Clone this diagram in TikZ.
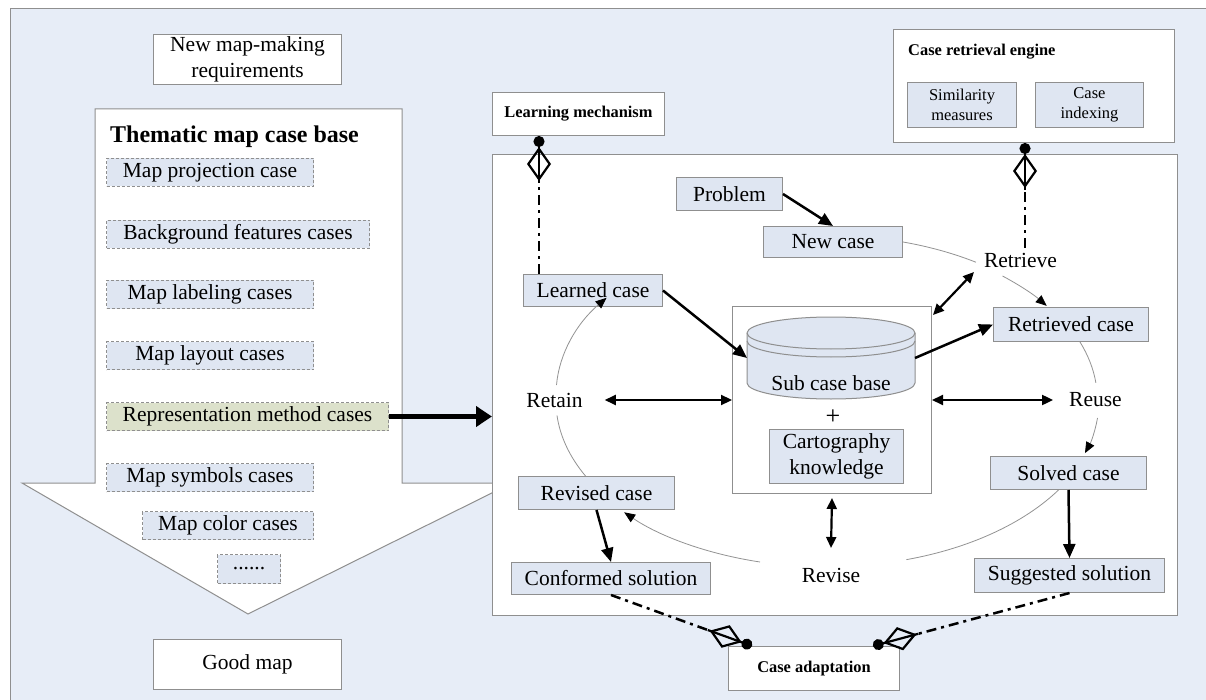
\documentclass[tikz,border=0pt]{standalone}
\usepackage{fontspec}
\setmainfont{Liberation Serif}
\usetikzlibrary{arrows.meta,calc}
\definecolor{bgblue}{HTML}{E7EDF7}
\definecolor{boxblue}{HTML}{DFE6F2}
\definecolor{repgreen}{HTML}{DCE1CB}
\definecolor{bgray}{HTML}{8F8F8F}
\newcommand\FMain{\fontsize{21.5}{25.5}\selectfont}
\newcommand\FSmall{\fontsize{16.5}{20}\selectfont}
\newcommand\FSmallB{\fontsize{16.4}{20}\selectfont\bfseries}
\newcommand\FTitle{\fontsize{24}{28}\selectfont\bfseries}
\newcommand\bx[6]{\node[#1,anchor=north west,minimum width={#4-#2},minimum height={#5-#3}] (#6) at (#2,#3)}
\newcommand\aggrcon[2]{%
  \draw[aggrline] (#1) -- ($(#2)!46pt!(#1)$);
  \draw[aggrtip] ($(#2)!47pt!(#1)$) -- (#2);}
\begin{document}
\begin{tikzpicture}[x=1pt,y=-1pt,
  basebox/.style={draw=bgray,line width=1pt,inner sep=2pt,align=center,font=\FMain},
  wbox/.style={basebox,fill=white},
  lbox/.style={basebox,fill=boxblue},
  dbox/.style={basebox,fill=boxblue,dash pattern=on 3pt off 2pt},
  gbox/.style={basebox,fill=repgreen,dash pattern=on 3pt off 2pt},
  lbl/.style={inner sep=0pt,font=\FMain},
  tarrow/.style={line width=2.5pt,-{Triangle[length=14pt,width=12pt]}},
  darrow/.style={line width=2.2pt,{Triangle[length=11pt,width=10pt]}-{Triangle[length=11pt,width=10pt]}},
  cyc/.style={draw=gray!85,line width=0.8pt},
  cyca/.style={cyc,-{Triangle[length=11pt,width=9pt,color=black]}},
  aggrline/.style={line width=2.5pt,dash pattern=on 10pt off 5pt on 3pt off 5pt},
  aggrtip/.style={line width=2.2pt,-{Diamond[open,length=34pt,width=24pt] Circle[length=11pt]}}
]
\useasboundingbox (0,0) rectangle (1206,700);
\fill[white] (0,0) rectangle (1206,700);
\fill[bgblue] (10,9) rectangle (1206,700);
\draw[bgray,line width=1pt] (10,700) -- (10,9) -- (1206,9);

% left side
\bx{wbox}{153}{34}{341}{84}{req} {New map-making\\requirements};
\filldraw[fill=white,draw=bgray,line width=1pt]
  (95,109) -- (402,109) -- (402,483) -- (512,483) -- (248,614) -- (22,483) -- (95,483) -- cycle;
\node[anchor=base west,inner sep=0pt,font=\FTitle] (title) at (110,143) {Thematic map case base};
\bx{dbox}{106}{158}{313}{186}{mp} {Map projection case};
\bx{dbox}{106}{220}{369}{248}{bf} {Background features cases};
\bx{dbox}{106}{280}{313}{308}{ml} {Map labeling cases};
\bx{dbox}{106}{341}{313}{369}{mlay} {Map layout cases};
\bx{gbox}{106}{402}{388}{430}{rep} {Representation method cases};
\bx{dbox}{106}{463}{313}{491}{ms} {Map symbols cases};
\bx{dbox}{142}{511}{313}{539}{mc} {Map color cases};
\bx{dbox}{217}{554}{280}{583}{more} {......};
\bx{wbox}{153}{639}{341}{689}{good} {Good map};

% top boxes
\bx{wbox,font=\FSmallB}{492}{92}{664}{135}{lm} {Learning mechanism};
\bx{wbox}{893}{29}{1174}{142}{cre} {};
\node[anchor=west,inner sep=0pt,font=\FSmallB] (cret) at (908,52) {Case retrieval engine};
\bx{lbox,font=\FSmall}{907}{82}{1016}{127}{sim} {Similarity\\measures};
\bx{lbox,font=\FSmall}{1035}{82}{1143}{127}{idx} {Case\\indexing};

% main panel
\bx{wbox}{492}{154}{1177}{615}{panel} {};
\draw[line width=5pt,-{Triangle[length=16pt,width=20pt]}] (rep.east) -- (rep.east -| panel.west);

\bx{lbox}{676}{177}{782}{210}{pb} {Problem};
\bx{lbox}{763}{226}{902}{257}{nc} {New case};
\bx{lbox}{523}{274}{662}{306}{lc} {Learned case};
\bx{lbox}{993}{307}{1148}{341}{rc} {Retrieved case};
\bx{wbox}{732}{306}{931}{493}{inner} {};
\bx{lbox}{769}{429}{903}{483}{ck} {Cartography\\knowledge};
\bx{lbox}{518}{476}{674}{509}{rv} {Revised case};
\bx{lbox}{990}{456}{1146}{489}{sc} {Solved case};
\bx{lbox}{511}{562}{710}{594}{conf} {Conformed solution};
\bx{lbox}{974}{558}{1164}{592}{sg} {Suggested solution};
\bx{wbox,font=\FSmallB}{728}{646}{899}{690}{ca} {Case adaptation};

% cylinder
\filldraw[fill=boxblue,draw=bgray,line width=1pt] (747,333) -- (747,383)
  arc[start angle=180,end angle=0,x radius=84,y radius=16] -- (915,333)
  arc[start angle=0,end angle=-180,x radius=84,y radius=16] -- cycle;
\draw[bgray,line width=1pt] (747,333) arc[start angle=180,end angle=0,x radius=84,y radius=16];
\draw[bgray,line width=1pt] (747,341) arc[start angle=180,end angle=0,x radius=84,y radius=16];
\node[lbl] (scb) at (831,383) {Sub case base};
\coordinate (cylW) at (747,358);
\coordinate (cylE) at (915,358);
\node[inner sep=0pt,font=\fontsize{26}{26}\selectfont] (plus) at (833,417) {+};

% stage labels
\node[lbl] (ret) at (1020.5,260) {Retrieve};
\node[lbl] (reuse) at (1095.5,400) {Reuse};
\node[lbl] (retain) at (554.5,400) {Retain};
\node[lbl] (revise) at (831,575) {Revise};

% thick arrows
\draw[tarrow] (pb.east) -- (nc.north);
\draw[tarrow] (lc.east) -- (cylW);
\draw[tarrow] (cylE) -- (rc.west);
\draw[tarrow] (rv.south) -- (conf.north);
\draw[tarrow] (sc.south) -- (sg.north);
\draw[darrow] ([shift={(22,0)}]retain.east) -- (inner.west);
\draw[darrow] (inner.east) -- ([shift={(-16,0)}]reuse.west);
\draw[darrow] ([shift={(0,4)}]inner.south) -- ([shift={(0,-27)}]revise.center);
\draw[darrow] ([shift={(1,9)}]inner.north east) -- ([shift={(-46.5,12)}]ret.center);

% cycle
\draw[cyc] (nc.east) arc[start angle=-74,end angle=-57,x radius=271,y radius=165];
\draw[cyca] ([shift={(-18,16)}]ret.center) arc[start angle=-49,end angle=-35,x radius=271,y radius=165];
\draw[cyc] ([shift={(9,0)}]rc.south) arc[start angle=-20.6,end angle=-6,x radius=271,y radius=165];
\draw[cyca] ([shift={(2,18)}]reuse.center) arc[start angle=6,end angle=18.5,x radius=271,y radius=165];
\draw[cyc] ([shift={(-10,0)}]sc.south) arc[start angle=32.5,end angle=73.6,x radius=271,y radius=165];
\draw[cyca] ([shift={(-71,-13)}]revise.center) arc[start angle=104,end angle=138,x radius=271,y radius=165];
\draw[cyc] ([shift={(-11,0)}]rv.north) arc[start angle=153,end angle=175,x radius=271,y radius=165];
\draw[cyca] ([shift={(2,-15)}]retain.center) arc[start angle=183,end angle=215.5,x radius=271,y radius=165];

% aggregation connectors
\coordinate (lmA) at ([shift={(16,0)}]lc.north west);
\coordinate (lmB) at ([shift={(47,0)}]lm.south west);
\coordinate (crA) at ([shift={(4.5,-12)}]ret.center);
\coordinate (crB) at ([shift={(132,0)}]cre.south west);
\coordinate (caL) at ([shift={(24,0)}]ca.north west);
\coordinate (caR) at ([shift={(-27,0)}]ca.north east);
\aggrcon{lmA}{lmB}
\aggrcon{crA}{crB}
\aggrcon{conf.south}{caL}
\aggrcon{sg.south}{caR}
\end{tikzpicture}
\end{document}
